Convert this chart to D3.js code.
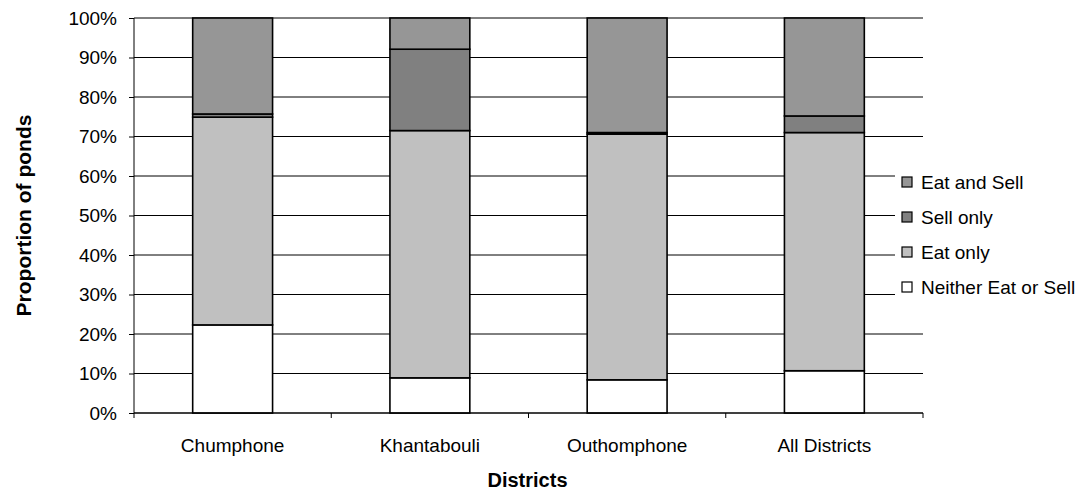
<!DOCTYPE html>
<html>
<head>
<meta charset="utf-8">
<script src="https://cdn.jsdelivr.net/npm/d3@7/dist/d3.min.js"></script>
<style>
  html, body { margin: 0; padding: 0; background: #fff; }
  svg { display: block; }
  text { font-family: "Liberation Sans", Arial, sans-serif; fill: #000; }
</style>
</head>
<body>
<svg id="chart" width="1087" height="491"></svg>
<script>
// Districts along the x axis
const districts = ["Chumphone", "Khantabouli", "Outhomphone", "All Districts"];

// Share of ponds (%) in each use category, per district
const neitherEatOrSell = [22.3, 8.9, 8.4, 10.7];
const eatOnly          = [52.6, 62.6, 62.2, 60.3];
const sellOnly         = [0.8, 20.6, 0.4, 4.2];
const eatAndSell       = [24.3, 7.9, 29.0, 24.8];

const seriesNames = ["Neither Eat or Sell", "Eat only", "Sell only", "Eat and Sell"];
const seriesColors = ["#ffffff", "#c0c0c0", "#808080", "#969696"];
const yTicks = [0, 10, 20, 30, 40, 50, 60, 70, 80, 90, 100];

const svg = d3.select("#chart");
const margin = { left: 134, right: 164, top: 18, bottom: 78 };
const W = 1087, H = 491;
const x0 = margin.left, x1 = W - margin.right;
const y0 = H - margin.bottom, y1 = margin.top;

const x = d3.scaleBand().domain(districts).range([x0, x1])
  .paddingInner(0.595).paddingOuter(0.2975);
const y = d3.scaleLinear().domain([0, 100]).range([y0, y1]);

// Horizontal gridlines
svg.append("g").selectAll("line").data(yTicks).join("line")
  .attr("x1", x0).attr("x2", x1)
  .attr("y1", d => y(d)).attr("y2", d => y(d))
  .attr("stroke", "#000").attr("stroke-width", 1);

// Stacked data
const rows = districts.map((d, i) => ({
  district: d,
  "Neither Eat or Sell": neitherEatOrSell[i],
  "Eat only": eatOnly[i],
  "Sell only": sellOnly[i],
  "Eat and Sell": eatAndSell[i]
}));
const stack = d3.stack().keys(seriesNames)(rows);

svg.append("g").selectAll("g").data(stack).join("g")
  .attr("fill", (s, i) => seriesColors[i])
  .selectAll("rect").data(s => s).join("rect")
  .attr("x", d => x(d.data.district))
  .attr("width", x.bandwidth())
  .attr("y", d => y(d[1]))
  .attr("height", d => y(d[0]) - y(d[1]))
  .attr("stroke", "#000").attr("stroke-width", 1.6);

// Y axis
const yAxis = d3.axisLeft(y).tickValues(yTicks).tickFormat(d => d + "%")
  .tickSize(5).tickPadding(12);
const gy = svg.append("g").attr("transform", `translate(${x0},0)`).call(yAxis);
gy.select(".domain").attr("d", `M0,${y0}V${y1}`).attr("stroke", "#000");
gy.selectAll(".tick line").attr("stroke", "#000");
gy.selectAll("text").attr("font-size", 19).attr("font-family", "Liberation Sans, Arial, sans-serif");

// X axis
const xAxis = d3.axisBottom(x).tickSize(0).tickPadding(26);
const gx = svg.append("g").attr("transform", `translate(0,${y0})`).call(xAxis);
gx.select(".domain").attr("d", `M${x0},0H${x1}`).attr("stroke", "#000");
gx.selectAll("text").attr("font-size", 19).attr("font-family", "Liberation Sans, Arial, sans-serif");
// category separator ticks
const step = x.step();
const sepPositions = d3.range(districts.length + 1).map(i => x0 + i * step);
gx.append("g").selectAll("line").data(sepPositions).join("line")
  .attr("x1", d => d).attr("x2", d => d).attr("y1", 0).attr("y2", 5)
  .attr("stroke", "#000");

// Axis titles
svg.append("text")
  .attr("transform", `translate(31,${(y0 + y1) / 2}) rotate(-90)`)
  .attr("text-anchor", "middle")
  .attr("font-size", 21).attr("font-weight", "bold")
  .text("Proportion of ponds");

svg.append("text")
  .attr("x", (x0 + x1) / 2 - 1).attr("y", 487)
  .attr("text-anchor", "middle")
  .attr("font-size", 20).attr("font-weight", "bold")
  .text("Districts");

// Legend (top entry is the top of the stack)
const legend = svg.append("g");
legend.append("rect").attr("x", 895).attr("y", 162).attr("width", 192).attr("height", 145)
  .attr("fill", "#fff");
const legendItems = seriesNames.map((n, i) => ({ name: n, color: seriesColors[i] })).reverse();
const li = legend.selectAll("g.item").data(legendItems).join("g")
  .attr("class", "item")
  .attr("transform", (d, i) => `translate(902,${182 + i * 35})`);
li.append("rect").attr("x", 0).attr("y", -5).attr("width", 10).attr("height", 10)
  .attr("fill", d => d.color).attr("stroke", "#000").attr("stroke-width", 1.2);
li.append("text").attr("x", 19).attr("y", 0).attr("dy", "0.35em")
  .attr("font-size", 19).text(d => d.name);
</script>
</body>
</html>
